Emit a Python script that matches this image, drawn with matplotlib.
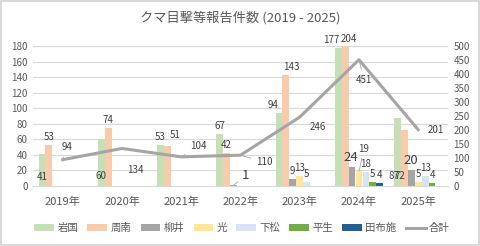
import numpy as np
import matplotlib.pyplot as plt

plt.rcParams['font.family'] = ['Noto Sans CJK JP', 'DejaVu Sans']

years = ['2019年', '2020年', '2021年', '2022年', '2023年', '2024年', '2025年']
series = ['岩国', '周南', '柳井', '光', '下松', '平生', '田布施']
nan = np.nan
iwakuni = [41, 60, 53, 67, 94, 177, 87]
shunan = [53, 74, 51, 42, 143, 204, 72]
yanai = [nan, nan, nan, 1, 9, 24, 20]
hikari = [nan, nan, nan, nan, 13, 19, 5]
kudamatsu = [nan, nan, nan, nan, 5, 18, 13]
hirao = [nan, nan, nan, nan, nan, 5, 4]
tabuse = [nan, nan, nan, nan, nan, 4, nan]
total = [94, 134, 104, 110, 246, 451, 201]

values = [iwakuni, shunan, yanai, hikari, kudamatsu, hirao, tabuse]
colors = ['#c5e0b4', '#f8cbad', '#a5a5a5', '#ffe699', '#dae3f3', '#70ad47', '#255e91']
txt = '#404040'

# label tweaks: (series idx, year idx) -> (where, dx px, dy px, leader)
bar_lab = {
    (0, 0): ('base', 0, 9, False),
    (0, 1): ('base', 0, 10, False),
    (1, 2): ('top', 8, 6, False),
    (2, 3): ('top', 12, 3, True),
    (0, 4): ('top', -6, 3, False),
    (1, 4): ('top', 5, 3, False),
    (0, 5): ('top', -7, 3, False),
    (1, 5): ('top', 4, 2, False),
    (2, 5): ('top', -1, 3, False),
    (3, 5): ('top', 5, 17, True),
    (0, 6): ('base', -3, 10, False),
    (1, 6): ('base', -4, 10, False),
}
big = {(2, 5), (2, 6), (2, 3)}
line_off = [(4, 13, True), (13, -22, False), (17, 11, True), (24, -7, True),
            (18, -10, False), (5, -20, True), (18, 0, False)]

fig = plt.figure(figsize=(4.8, 2.46), dpi=100)
fig.patch.set_edgecolor('#d9d9d9')
fig.patch.set_linewidth(1.5)
ax = fig.add_axes([0.069, 0.244, 0.864, 0.569])
ax2 = ax.twinx()

x = np.arange(len(years))
w = 0.117
for j, (vals, c) in enumerate(zip(values, colors)):
    xs = x + (j - 3) * w
    ax.bar(xs, vals, w * 0.98, color=c, label=series[j], zorder=2)
    for i, v in enumerate(vals):
        if np.isnan(v):
            continue
        where, dx, dy, lead = bar_lab.get((j, i), ('top', 0, 3, False))
        y0 = 0 if where == 'base' else min(v, 180)
        fs = 9.5 if (j, i) in big else 7
        ap = dict(arrowstyle='-', color='#a6a6a6', lw=0.6, shrinkA=1, shrinkB=0) if lead else None
        ax.annotate(f'{int(v)}', (xs[i], y0), xytext=(dx, dy), textcoords='offset pixels',
                    ha='center', va='bottom' if where == 'top' else 'center',
                    fontsize=fs, color=txt, arrowprops=ap, zorder=5)

ax2.plot(x, total, color='#a5a5a5', lw=2.2, label='合計', zorder=3)
for i, v in enumerate(total):
    dx, dy, lead = line_off[i]
    ap = dict(arrowstyle='-', color='#a6a6a6', lw=0.6, shrinkA=2, shrinkB=1) if lead else None
    ax2.annotate(f'{v}', (x[i], v), xytext=(dx, dy), textcoords='offset pixels',
                 ha='center', va='center', fontsize=7, color=txt, arrowprops=ap)

ax.set_ylim(0, 180)
ax.set_yticks(range(0, 181, 20))
ax2.set_ylim(0, 500)
ax2.set_yticks(range(0, 501, 50))
ax.set_xlim(-0.5, 6.5)
ax.set_xticks(x)
ax.set_xticklabels(years)
ax.grid(axis='y', color='#d9d9d9', lw=0.8, zorder=0)
ax.set_axisbelow(True)
for a in (ax, ax2):
    for s in a.spines.values():
        s.set_visible(False)
    a.tick_params(length=0, labelsize=7, colors='#595959')
ax.spines['bottom'].set_visible(True)
ax.spines['bottom'].set_color('#d9d9d9')
ax.tick_params(axis='x', labelsize=8, pad=8)
ax.tick_params(axis='y', pad=4)
ax2.tick_params(axis='y', pad=4)

fig.suptitle('クマ目撃等報告件数 (2019 - 2025)', y=0.955, fontsize=9.5, color='#595959')

h1, l1 = ax.get_legend_handles_labels()
h2, l2 = ax2.get_legend_handles_labels()
fig.legend(h1 + h2, l1 + l2, loc='center', bbox_to_anchor=(0.504, 0.073), ncol=8,
           frameon=False, fontsize=7.5, handlelength=1.9, handleheight=0.55,
           columnspacing=0.9, handletextpad=0.3, labelcolor='#595959')

fig.savefig('out.png', dpi=100)
